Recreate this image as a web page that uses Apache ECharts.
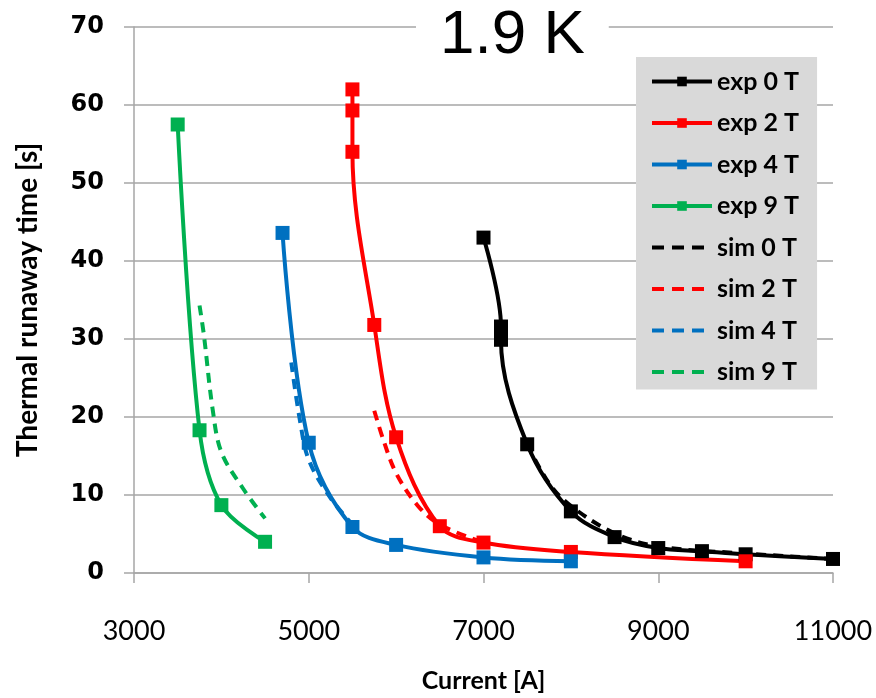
<!DOCTYPE html>
<html>
<head>
<meta charset="utf-8">
<script src="https://cdn.jsdelivr.net/npm/echarts@6/dist/echarts.min.js"></script>
<style>
  html, body { margin: 0; padding: 0; background: #fff; }
  #chart { width: 876px; height: 698px; }
</style>
</head>
<body>
<div id="chart"></div>
<script>
// measured points [current A, time s]
let exp0T = [[7000, 43], [7200, 31.6], [7200, 29.9], [7500, 16.5], [8000, 7.9], [8500, 4.6], [9000, 3.2], [9500, 2.8], [10000, 2.4], [11000, 1.8]];
let exp2T = [[5500, 62], [5500, 59.3], [5500, 54], [5750, 31.8], [6000, 17.4], [6500, 6.0], [7000, 3.9], [8000, 2.7], [10000, 1.5]];
let exp4T = [[4700, 43.6], [5000, 16.7], [5500, 5.9], [6000, 3.6], [7000, 2.0], [8000, 1.5]];
let exp9T = [[3500, 57.5], [3750, 18.3], [4000, 8.7], [4500, 4.0]];

// simulation curves
let sim0T = [[7500, 16.5], [7750, 11.5], [8000, 8.6], [8500, 5.1], [9000, 3.4], [10000, 2.5], [11000, 1.8]];
let sim2T = [[5750, 20.8], [5850, 17.2], [6000, 12.8], [6250, 8.6], [6500, 6.2], [7000, 3.9]];
let sim4T = [[4800, 27], [4900, 19.5], [5000, 14.5], [5250, 9.6], [5500, 6.2]];
let sim9T = [[3750, 34.3], [3800, 30.5], [3900, 21], [4000, 15.5], [4250, 10.8], [4500, 7.0]];

let names = ['exp 0 T', 'exp 2 T', 'exp 4 T', 'exp 9 T', 'sim 0 T', 'sim 2 T', 'sim 4 T', 'sim 9 T'];
let colors = ['#000000', '#ff0000', '#0070c0', '#00b050'];

let expData = [exp0T, exp2T, exp4T, exp9T];
let simData = [sim0T, sim2T, sim4T, sim9T];

let series = [];
for (let i = 0; i < 4; i++) {
    series.push({
        name: names[i],
        type: 'line',
        data: expData[i],
        smooth: 0.35,
        symbol: 'rect',
        symbolSize: 14,
        showAllSymbol: true,
        lineStyle: { color: colors[i], width: 4 },
        itemStyle: { color: colors[i] },
        z: 3
    });
}
for (let i = 0; i < 4; i++) {
    series.push({
        name: names[i + 4],
        type: 'line',
        data: simData[i],
        smooth: 0.35,
        symbol: 'none',
        lineStyle: { color: colors[i], width: 4, type: [10, 7] },
        itemStyle: { color: colors[i] },
        z: 2
    });
}

// legend entries: sim lines show no marker
let legendData = names.map((n, i) => i < 4 ? {
    name: n,
    lineStyle: { width: 4 }
} : {
    name: n,
    itemStyle: { opacity: 0, borderWidth: 0 },
    lineStyle: { width: 4, type: [12, 8] }
});

let option = {
    animation: false,
    backgroundColor: '#fff',
    title: {
        text: '1.9 K',
        left: 416,
        top: 5,
        padding: [0, 24],
        backgroundColor: '#fff',
        textStyle: {
            fontFamily: 'Liberation Sans',
            fontSize: 62,
            fontWeight: 'normal',
            color: '#000',
            lineHeight: 62
        }
    },
    legend: {
        data: legendData,
        orient: 'vertical',
        left: 636,
        top: 57,
        backgroundColor: '#d9d9d9',
        padding: [12, 18, 5, 14],
        itemWidth: 60,
        itemHeight: 12,
        itemGap: 16.5,
        lineStyle: { width: 4 },
        textStyle: {
            fontFamily: 'Lato',
            fontWeight: 'bold',
            fontSize: 25,
            lineHeight: 24,
            color: '#000'
        }
    },
    grid: {
        left: 134,
        right: 43,
        top: 27,
        bottom: 113
    },
    xAxis: {
        type: 'value',
        min: 3000,
        max: 11000,
        interval: 2000,
        name: 'Current [A]',
        nameLocation: 'middle',
        nameGap: 95,
        nameTextStyle: { fontFamily: 'Lato', fontWeight: 'bold', fontSize: 25, color: '#000' },
        axisLine: { lineStyle: { color: '#a6a6a6', width: 1.5 } },
        axisTick: { show: true, length: 10, lineStyle: { color: '#a6a6a6', width: 1.5 } },
        axisLabel: { margin: 45, fontFamily: 'Lato', fontSize: 27, color: '#000', formatter: v => String(v) },
        splitLine: { show: false }
    },
    yAxis: {
        type: 'value',
        min: 0,
        max: 70,
        interval: 10,
        name: 'Thermal runaway time [s]',
        nameLocation: 'middle',
        nameGap: 92,
        nameRotate: 90,
        nameTextStyle: { fontFamily: 'Lato', fontWeight: 'bold', fontSize: 28, color: '#000' },
        axisLine: { show: true, lineStyle: { color: '#a6a6a6', width: 1.5 } },
        axisTick: { show: true, length: 10, lineStyle: { color: '#a6a6a6', width: 1.5 } },
        axisLabel: { margin: 30, fontFamily: 'DejaVu Sans', fontWeight: 'bold', fontSize: 24, color: '#000' },
        splitLine: { lineStyle: { color: '#a6a6a6', width: 1.5 } }
    },
    series: series
};

echarts.init(document.getElementById('chart')).setOption(option);
</script>
</body>
</html>
